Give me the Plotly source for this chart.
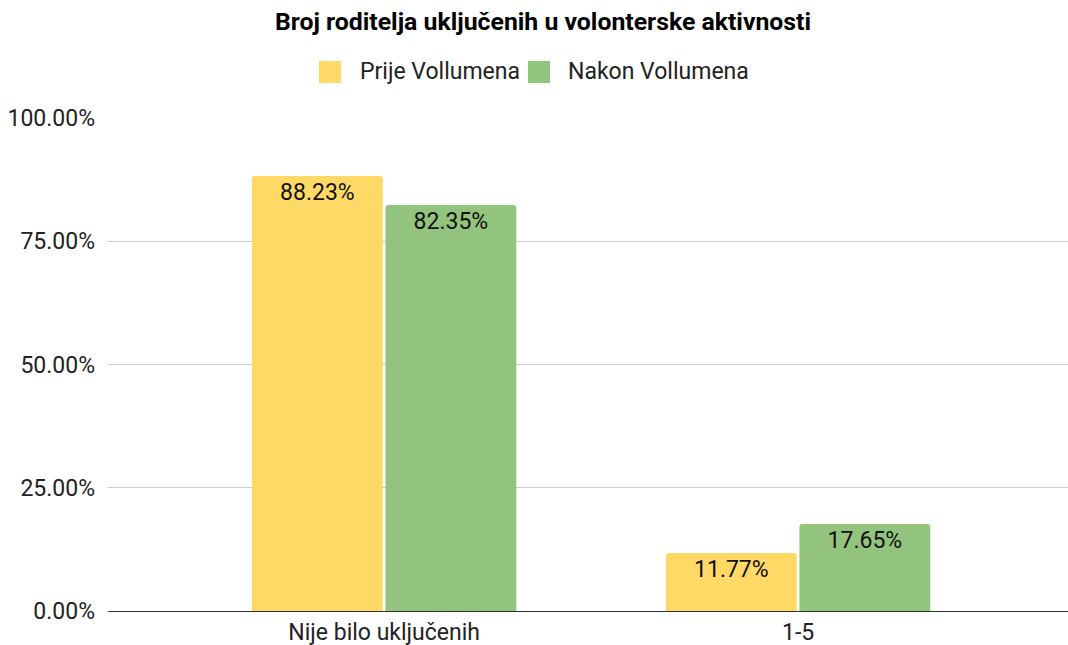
import plotly.graph_objects as go

categories = ["Nije bilo uključenih", "1-5"]
prije = [0.8823, 0.1177]
nakon = [0.8235, 0.1765]
series_names = ["Prije Vollumena", "Nakon Vollumena"]
colors = ["#FFD966", "#93C47D"]
y_ticks = [0, 0.25, 0.5, 0.75, 1.0]

FONT = "Roboto"
W, H = 1068, 645
ML, MT, MB = 108, 118, 34

fig = go.Figure()
for name, vals, col in [(series_names[0], prije, colors[0]), (series_names[1], nakon, colors[1])]:
    fig.add_trace(go.Bar(
        x=categories, y=vals, name=name,
        marker=dict(color=col, line=dict(width=0), cornerradius=3),
        texttemplate="%{y:.2%}", textposition="inside", insidetextanchor="end",
        textfont=dict(family=FONT, size=23, color="#111111"),
        hoverinfo="skip", showlegend=False,
    ))

# custom legend with large square swatches (paper coordinates)
pw, ph = W - ML, H - MT - MB
def px2x(px):
    return (px - ML) / pw
def py2y(py):
    return (H - MB - py) / ph

legend_items = [(series_names[0], colors[0], 319, 358), (series_names[1], colors[1], 528, 566)]
for name, col, sx, tx in legend_items:
    fig.add_shape(type="rect", xref="paper", yref="paper",
                  x0=px2x(sx), x1=px2x(sx + 22), y0=py2y(83), y1=py2y(61),
                  fillcolor=col, line=dict(width=0))
    fig.add_annotation(xref="paper", yref="paper", x=px2x(tx), y=py2y(72),
                       xanchor="left", yanchor="middle", showarrow=False, text=name,
                       font=dict(family=FONT, size=23, color="#222222"))

fig.update_layout(
    width=W, height=H,
    margin=dict(l=ML, r=0, t=MT, b=MB, autoexpand=False),
    paper_bgcolor="white", plot_bgcolor="white",
    barmode="group", bargap=0.355, bargroupgap=0.02,
    title=dict(text="<b>Broj roditelja uključenih u volonterske aktivnosti</b>",
               x=543 / W, xanchor="center", y=1 - 21 / H, yanchor="middle",
               font=dict(family=FONT, size=24.8, color="#000000")),
    showlegend=False,
)
fig.update_xaxes(range=[-0.667, 1.652], showgrid=False, showline=True, linecolor="#333333",
                 linewidth=1, ticks="", automargin=False,
                 tickfont=dict(family=FONT, size=23, color="#222222"))
fig.update_yaxes(range=[0, 1.0], tickvals=y_ticks, tickformat=".2%", showgrid=True,
                 gridcolor="#CCCCCC", gridwidth=1, zeroline=False, ticks="",
                 ticklabelstandoff=12, automargin=False,
                 tickfont=dict(family=FONT, size=23, color="#222222"))
fig.write_html("out.html", config={"displayModeBar": False},
               post_script="document.body.style.margin='0';")
